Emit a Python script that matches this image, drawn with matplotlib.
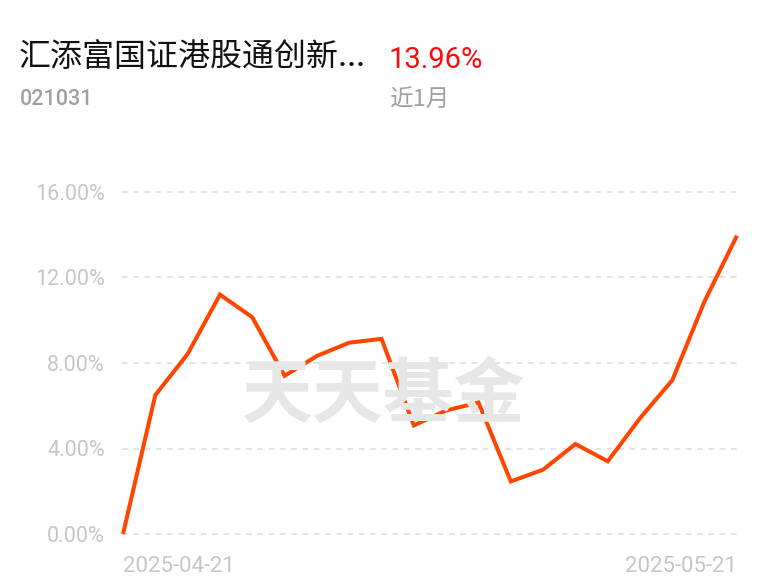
import matplotlib
matplotlib.use("Agg")
import matplotlib.pyplot as plt

plt.rcParams['font.family'] = ['Roboto', 'Noto Sans CJK SC', 'DejaVu Sans']

fund_name = "汇添富国证港股通创新..."
fund_code = "021031"
period_return = "13.96%"
period_label = "近1月"
watermark = "天天基金"

dates = ["2025-04-21", "2025-04-22", "2025-04-23", "2025-04-24", "2025-04-25",
         "2025-04-28", "2025-04-29", "2025-04-30", "2025-05-06", "2025-05-07",
         "2025-05-08", "2025-05-09", "2025-05-12", "2025-05-13", "2025-05-14",
         "2025-05-15", "2025-05-16", "2025-05-19", "2025-05-20", "2025-05-21"]
returns = [0.00, 6.50, 8.42, 11.20, 10.14, 7.40, 8.33, 8.95, 9.13, 5.08,
           5.78, 6.15, 2.46, 3.01, 4.21, 3.40, 5.42, 7.20, 10.90, 13.96]
y_ticks = [0, 4, 8, 12, 16]
y_tick_labels = ["0.00%", "4.00%", "8.00%", "12.00%", "16.00%"]

W, H = 768, 585
fig = plt.figure(figsize=(W / 100, H / 100), dpi=100)
fig.patch.set_facecolor("white")

def fx(px):
    return px / W

def fy(py):
    return 1 - py / H

ax = fig.add_axes([fx(122), fy(534), fx(737) - fx(122), fy(192) - fy(534)])
ax.set_facecolor("none")
for s in ax.spines.values():
    s.set_visible(False)

x = list(range(len(dates)))
n = len(dates) - 1
a = -1 * n / 615
ax.set_xlim(a, a + n)
ax.set_ylim(0, 16)

for yv in y_ticks:
    ax.axhline(yv, color="#e3e3e3", lw=1.4, dashes=(2.9, 2.9), zorder=1, clip_on=False)

ax.plot(x, returns, color="#ff4500", lw=2.9, solid_joinstyle="miter",
        solid_capstyle="butt", zorder=3, clip_on=False)

ax.set_yticks(y_ticks)
ax.set_yticklabels(y_tick_labels)
ax.tick_params(axis="y", length=0, pad=12.5, labelsize=15.5, labelcolor="#c6c6c6")

ax.set_xticks([x[0], x[-1]])
ax.set_xticklabels([dates[0], dates[-1]])
ax.tick_params(axis="x", length=0, pad=16, labelsize=16, labelcolor="#c6c6c6")
xl = ax.get_xticklabels()
xl[0].set_ha("left")
xl[1].set_ha("right")

# watermark
fig.text(fx(384), fy(396), watermark, fontsize=51, fontweight="heavy",
         family=["Noto Sans CJK SC"], color="#e6e6e6", ha="center", va="center", zorder=0)

# header
fig.text(fx(19), fy(66), fund_name, fontsize=23, family=["Noto Sans CJK SC"],
         color="#111111", ha="left", va="baseline")
fig.text(fx(389), fy(68), period_return, fontsize=21, color="#ff0a0a",
         ha="left", va="baseline")
fig.text(fx(20), fy(105), fund_code, fontsize=15.5, color="#a0a0a0",
         ha="left", va="baseline", fontweight="medium")
fig.text(fx(389), fy(106), period_label, fontsize=17, family=["Noto Sans CJK SC"],
         color="#a0a0a0", ha="left", va="baseline")

fig.savefig("out.png", dpi=100, facecolor="white")
